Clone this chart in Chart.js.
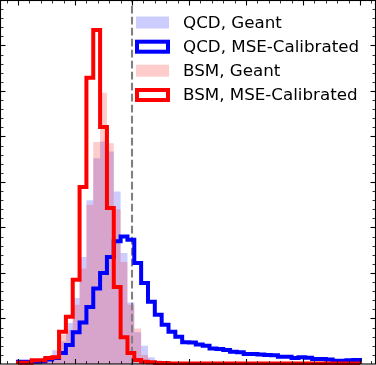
<!DOCTYPE html>
<html><head><meta charset="utf-8">
<script src="https://cdn.jsdelivr.net/npm/chart.js@4.4.1/dist/chart.umd.min.js"></script>
<style>html,body{margin:0;padding:0;background:#fff;overflow:hidden}#wrap{position:relative;width:376px;height:365px}</style>
</head><body><div id="wrap"><canvas id="c" width="376" height="365"></canvas></div>
<script>
// bin edges (50 bins)
const binEdges = [0,0.06,0.12,0.18,0.24,0.30,0.36,0.42,0.48,0.54,0.60,0.66,0.72,0.78,0.84,0.90,0.96,1.02,1.08,1.14,1.20,1.26,1.32,1.38,1.44,1.50,1.56,1.62,1.68,1.74,1.80,1.86,1.92,1.98,2.04,2.10,2.16,2.22,2.28,2.34,2.40,2.46,2.52,2.58,2.64,2.70,2.76,2.82,2.88,2.94,3.00];
const qcdGeant = [0.02,0.02,0.03,0.05,0.12,0.3,0.5,0.9,1.45,2.35,3.6,4.52,4.89,4.67,3.79,2.44,1.35,0.7,0.4,0.15,0.08,0.05,0.03,0.02,0.02,0.01,0.01,0.01,0.01,0.01,0.01,0.01,0.01,0.01,0.01,0.01,0.01,0.01,0.01,0.01,0.01,0.01,0.01,0.01,0.01,0.01,0.01,0.01,0.01,0.01];
const qcdMSE = [0.05,0.05,0.05,0.06,0.1,0.13,0.24,0.42,0.7,0.91,1.25,1.66,2.0,2.35,2.7,2.8,2.73,2.22,1.78,1.37,1.08,0.86,0.71,0.6,0.48,0.47,0.43,0.40,0.34,0.33,0.31,0.27,0.26,0.22,0.22,0.21,0.2,0.19,0.16,0.16,0.13,0.15,0.14,0.11,0.11,0.1,0.07,0.07,0.08,0.09];
const bsmGeant = [0.01,0.01,0.03,0.05,0.1,0.2,0.65,0.75,1.3,2.1,3.5,4.88,5.96,4.85,3.4,2.24,1.3,0.78,0.2,0.06,0.03,0.02,0.01,0.01,0.01,0,0,0,0,0,0,0,0,0,0,0,0,0,0,0,0,0,0,0,0,0,0,0,0,0];
const bsmMSE = [0.03,0.03,0.08,0.08,0.13,0.15,0.71,1.04,1.85,3.89,6.29,7.34,5.21,3.43,1.69,0.59,0.24,0.09,0.05,0.04,0.02,0.02,0.01,0.01,0.01,0.01,0.01,0.01,0.01,0.01,0.01,0.01,0.01,0.01,0.01,0.01,0.01,0.01,0.01,0.01,0.01,0.01,0.01,0.01,0.01,0.01,0.01,0.01,0.01,0.01];
const refLine = 1.0;
const legendLabels = ['QCD, Geant','QCD, MSE-Calibrated','BSM, Geant','BSM, MSE-Calibrated'];
const xRange = [-0.1580, 3.1402];
const yRange = [-0.02198, 8.0];

function steps(vals){
  const pts = [{x: binEdges[0], y: 0}];
  for (let i = 0; i < vals.length; i++) pts.push({x: binEdges[i], y: vals[i]});
  pts.push({x: binEdges[vals.length], y: 0});
  return pts;
}
const base = {pointRadius:0, pointHoverRadius:0, stepped:'before', tension:0};
const datasets = [
  Object.assign({label:legendLabels[3], data:steps(bsmMSE), borderColor:'#ff0000', borderWidth:4, fill:false, borderJoinStyle:'miter'}, base),
  Object.assign({label:legendLabels[1], data:steps(qcdMSE), borderColor:'#0000ff', borderWidth:4, fill:false, borderJoinStyle:'miter'}, base),
  Object.assign({label:'ref', data:[{x:refLine,y:-1},{x:refLine,y:9}], borderColor:'rgb(128,128,128)', borderWidth:2.1, borderDash:[7.7,3.3], fill:false}, base, {stepped:false}),
  Object.assign({label:legendLabels[2], data:steps(bsmGeant), borderWidth:0, borderColor:'rgba(0,0,0,0)', backgroundColor:'rgba(255,0,0,0.2)', fill:'origin'}, base),
  Object.assign({label:legendLabels[0], data:steps(qcdGeant), borderWidth:0, borderColor:'rgba(0,0,0,0)', backgroundColor:'rgba(0,0,255,0.2)', fill:'origin'}, base)
];

const framePlugin = {
  id:'frame',
  afterDraw(chart){
    const ctx = chart.ctx, xs = chart.scales.x, ys = chart.scales.y;
    const L = 0.5, R = 375.5, T = 0.5, B = ys.getPixelForValue(0);
    ctx.save();
    ctx.strokeStyle = '#000';
    const tick = (x1,y1,x2,y2,w)=>{ctx.lineWidth=w;ctx.beginPath();ctx.moveTo(x1,y1);ctx.lineTo(x2,y2);ctx.stroke();};
    for (let i = -1; i <= 32; i++) {
      const v = i/10, px = Math.round(xs.getPixelForValue(v)) + 0.5;
      if (px < 2 || px > 374) continue;
      const major = i % 5 === 0;
      const len = major ? 5 : 3, w = major ? 1.1 : 0.8;
      tick(px, B, px, B - len, w);
      tick(px, T, px, T + len, w);
    }
    for (let i = 0; i <= 40; i++) {
      const v = i/5, py = Math.round(ys.getPixelForValue(v)) + 0.5;
      if (py < 2 || py > 363) continue;
      const major = i % 5 === 0;
      const len = major ? 5 : 3, w = major ? 1.1 : 0.8;
      tick(L, py, L + len, py, w);
      tick(R, py, R - len, py, w);
    }
    ctx.lineWidth = 1.1;
    ctx.strokeRect(L, T, R - L, B - T);
    const entries = [
      {t:legendLabels[0], fill:'rgba(0,0,255,0.2)', y:22.5},
      {t:legendLabels[1], stroke:'#0000ff', y:46.7},
      {t:legendLabels[2], fill:'rgba(255,0,0,0.2)', y:70.7},
      {t:legendLabels[3], stroke:'#ff0000', y:95}
    ];
    ctx.font = '16.7px "DejaVu Sans"';
    ctx.textBaseline = 'middle';
    entries.forEach(e=>{
      if (e.fill){ ctx.fillStyle = e.fill; ctx.fillRect(136, e.y - 6, 33, 12); }
      else { ctx.strokeStyle = e.stroke; ctx.lineWidth = 4; ctx.strokeRect(137, e.y - 5, 31, 10); }
      ctx.fillStyle = '#000';
      ctx.fillText(e.t, 183, e.y + 1);
    });
    ctx.restore();
  }
};

new Chart(document.getElementById('c'), {
  type:'line',
  data:{datasets},
  options:{
    responsive:false, animation:false, devicePixelRatio:1,
    layout:{padding:0},
    plugins:{legend:{display:false}, tooltip:{enabled:false}},
    scales:{
      x:{type:'linear', min:xRange[0], max:xRange[1], display:false},
      y:{type:'linear', min:yRange[0], max:yRange[1], display:false}
    }
  },
  plugins:[framePlugin]
});
</script></body></html>
